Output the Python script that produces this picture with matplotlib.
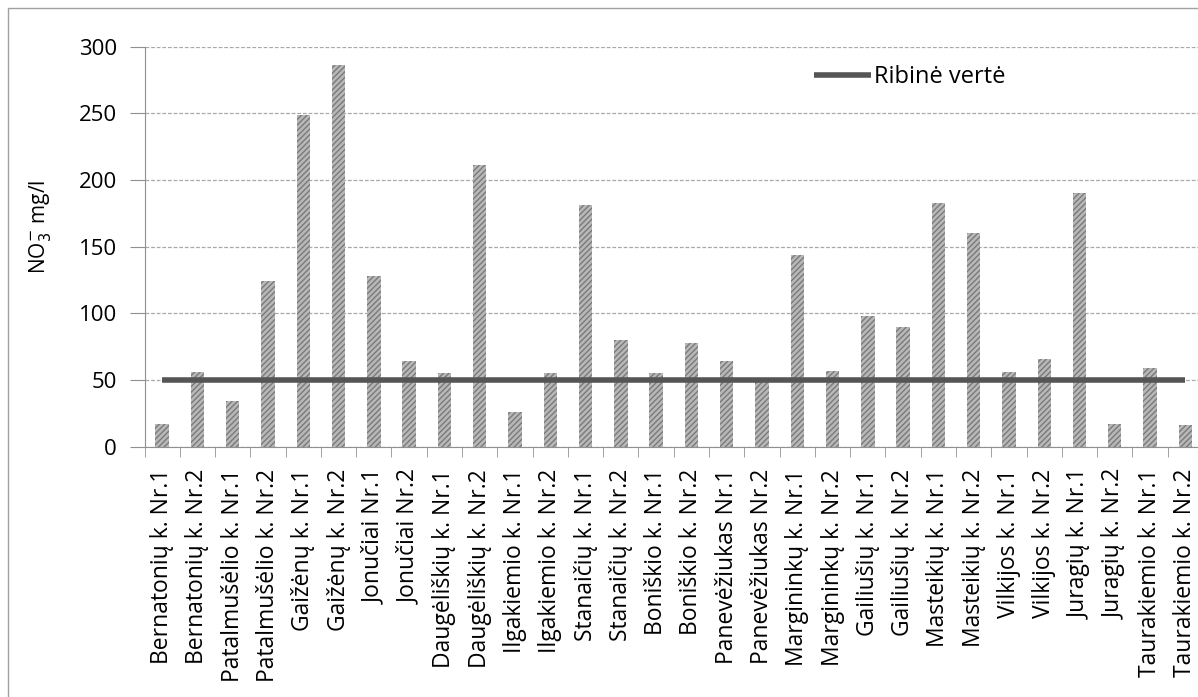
import numpy as np
import matplotlib
matplotlib.use("Agg")
from matplotlib import pyplot as plt
from matplotlib.patches import Rectangle

# sampling sites (two wells per village)
sites = [
    "Bernatonių k. Nr.1", "Bernatonių k. Nr.2",
    "Patalmušėlio k. Nr.1", "Patalmušėlio k. Nr.2",
    "Gaižėnų k. Nr.1", "Gaižėnų k. Nr.2",
    "Jonučiai Nr.1", "Jonučiai Nr.2",
    "Daugėliškių k. Nr.1", "Daugėliškių k. Nr.2",
    "Ilgakiemio k. Nr.1", "Ilgakiemio k. Nr.2",
    "Stanaičių k. Nr.1", "Stanaičių k. Nr.2",
    "Boniškio k. Nr.1", "Boniškio k. Nr.2",
    "Panevėžiukas Nr.1", "Panevėžiukas Nr.2",
    "Margininkų k. Nr.1", "Margininkų k. Nr.2",
    "Gailiušių k. Nr.1", "Gailiušių k. Nr.2",
    "Masteikių k. Nr.1", "Masteikių k. Nr.2",
    "Vilkijos k. Nr.1", "Vilkijos k. Nr.2",
    "Juragių k. Nr.1", "Juragių k. Nr.2",
    "Taurakiemio k. Nr.1", "Taurakiemio k. Nr.2",
]

# nitrate concentration, mg/l
no3 = [17, 56, 34, 124, 249, 286, 128, 64, 55, 211,
       26, 55, 181, 80, 55, 78, 64, 49, 144, 57,
       98, 90, 183, 160, 56, 66, 190, 17, 59, 16]

# limit value
limit = 50
limit_label = "Ribinė vertė"

plt.rcParams["font.family"] = ["Open Sans", "DejaVu Sans"]
plt.rcParams["hatch.linewidth"] = 1.0

W, H = 1198, 697
fig = plt.figure(figsize=(W / 100, H / 100), dpi=100)

# outer chart frame
fig.patches.append(Rectangle((8 / W, -0.1), 1.2, 1 - 8 / H + 0.1,
                             transform=fig.transFigure, fill=False,
                             edgecolor="#a0a0a0", linewidth=1.0))

left, right = 144.5, 1203
top, bottom = 46.7, 446.7
ax = fig.add_axes([left / W, 1 - bottom / H, (right - left) / W, (bottom - top) / H])

x = np.arange(len(sites))
ax.bar(x, no3, width=0.38, color="#b8b8b8", edgecolor="#7a7a7a",
       hatch="//////", linewidth=0, zorder=2)
ax.plot(x, [limit] * len(sites), color="#555555", linewidth=4,
        solid_capstyle="butt", label=limit_label, zorder=3)

ax.set_xlim(-0.5, len(sites) - 0.5)
ax.set_ylim(0, 300)
ax.set_yticks(range(0, 301, 50))
ax.yaxis.grid(True, color="#a8a8a8", linestyle=(0, (3, 1.5)), linewidth=0.9)
ax.set_axisbelow(True)

ax.set_xticks(x)
ax.set_xticklabels(sites, rotation=90, fontsize=16.5)
ax.set_xticks(np.arange(-0.5, len(sites), 1), minor=True)
ax.tick_params(axis="x", which="major", length=0, pad=16)
ax.tick_params(axis="x", which="minor", length=7, color="#909090")
ax.tick_params(axis="y", length=11, color="#909090", labelsize=16, pad=9)

for side in ["top", "right"]:
    ax.spines[side].set_visible(False)
for side in ["left", "bottom"]:
    ax.spines[side].set_color("#909090")

ax.set_ylabel(r"NO$_3^{-}$ mg/l", fontsize=15)
ax.yaxis.set_label_coords(-0.086, 0.55)

fig.legend(loc="center left", bbox_to_anchor=(793 / W, 1 - 77 / H),
           frameon=False, fontsize=17, handlelength=2.4, handletextpad=0.15)

fig.savefig("out.png", dpi=100)
